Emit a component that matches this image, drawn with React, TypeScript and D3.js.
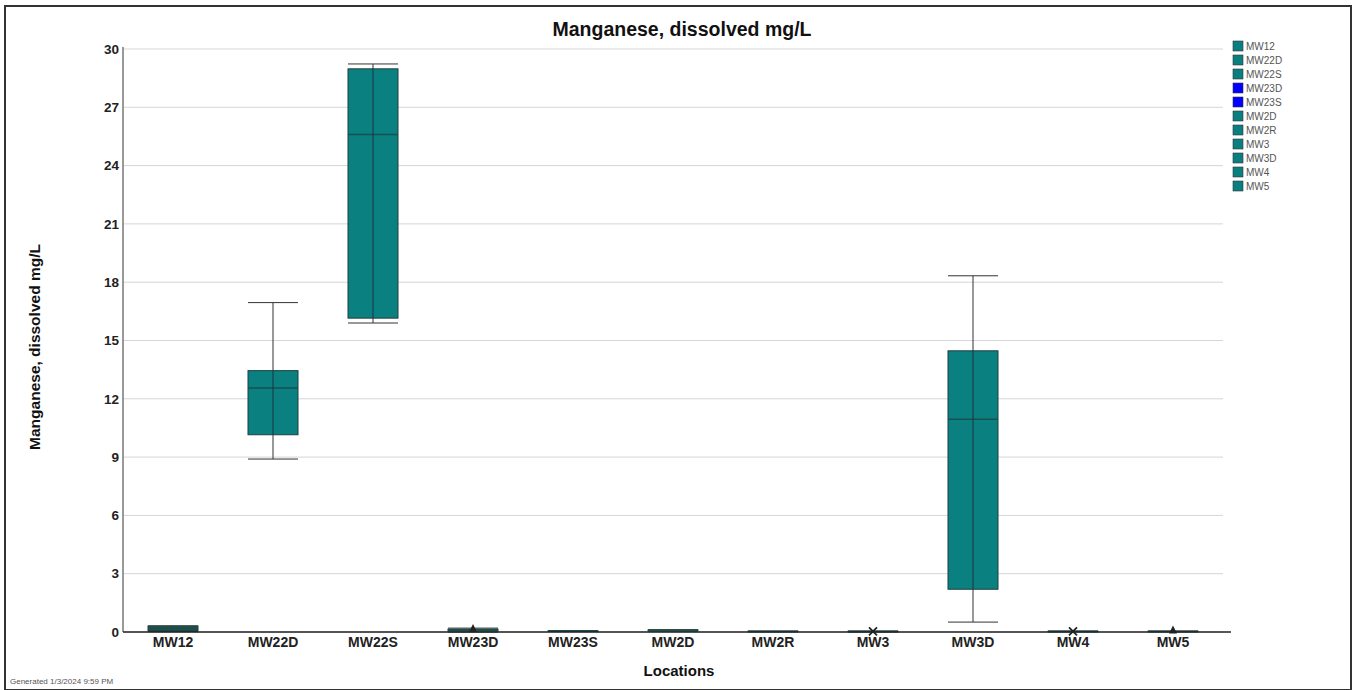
import React from "react";
import * as d3 from "d3";

// Locations and five-number summaries (mg/L)
const locations = ["MW12", "MW22D", "MW22S", "MW23D", "MW23S", "MW2D", "MW2R", "MW3", "MW3D", "MW4", "MW5"];
const whiskerLow = [0.02, 8.9, 15.9, 0.0, 0.03, 0.05, 0.02, 0.01, 0.51, 0.02, 0.02];
const q1 = [0.05, 10.15, 16.15, 0.05, 0.04, 0.06, 0.03, 0.02, 2.2, 0.03, 0.03];
const median = [0.2, 12.55, 25.6, 0.1, 0.05, 0.08, 0.03, 0.03, 10.95, 0.03, 0.03];
const q3 = [0.3, 13.45, 28.98, 0.15, 0.06, 0.1, 0.04, 0.04, 14.47, 0.04, 0.04];
const whiskerHigh = [0.32, 16.95, 29.23, 0.2, 0.07, 0.12, 0.05, 0.05, 18.33, 0.05, 0.05];
// Point markers drawn at a few locations
const markerLoc = ["MW23D", "MW3", "MW4", "MW5"];
const markerVal = [0.1, 0.03, 0.03, 0.03];
const markerShape = ["tri", "x", "x", "tri"];

const legendColors = ["#0a7f7f", "#0a7f7f", "#0a7f7f", "#0000ff", "#0000ff", "#0a7f7f", "#0a7f7f", "#0a7f7f", "#0a7f7f", "#0a7f7f", "#0a7f7f"];
const yTicks = [0, 3, 6, 9, 12, 15, 18, 21, 24, 27, 30];

const W = 1356;
const H = 690;
const left = 123;
const right = 1223;
const top = 49;
const bottom = 632;
const font = "'Liberation Sans', Arial, sans-serif";
const teal = "#0b8080";

export default function App() {
  const x = d3.scaleBand<string>().domain(locations).range([left, right]).paddingInner(0).paddingOuter(0);
  const y = d3.scaleLinear().domain([0, 30]).range([bottom, top]);
  const bw = x.bandwidth() * 0.5;

  return (
    <svg
      width={W}
      height={H}
      style={{ position: "absolute", left: 0, top: 0, background: "#fff" }}
      fontFamily={font}
    >
      <rect x={5} y={6} width={1346} height={684} fill="#fff" stroke="#333" strokeWidth={2} />

      {/* gridlines */}
      {yTicks.map((t) => (
        <line key={"g" + t} x1={left} x2={right} y1={y(t)} y2={y(t)} stroke="#d6d6d6" strokeWidth={1} />
      ))}

      {/* boxes */}
      {locations.map((loc, i) => {
        const cx = (x(loc) as number) + x.bandwidth() / 2;
        const x0 = cx - bw / 2;
        const small = q3[i] - q1[i] < 1;
        return (
          <g key={loc}>
            <line x1={cx} x2={cx} y1={y(whiskerHigh[i])} y2={y(whiskerLow[i])} stroke="#333" strokeWidth={1} />
            <line x1={x0} x2={x0 + bw} y1={y(whiskerHigh[i])} y2={y(whiskerHigh[i])} stroke="#333" strokeWidth={1} />
            <line x1={x0} x2={x0 + bw} y1={y(whiskerLow[i])} y2={y(whiskerLow[i])} stroke="#333" strokeWidth={1} />
            <rect
              x={x0}
              y={y(q3[i])}
              width={bw}
              height={Math.max(y(q1[i]) - y(q3[i]), 0.5)}
              fill={small ? "#1e4f4a" : teal}
              stroke="#1f3f3f"
              strokeWidth={1}
            />
            <line x1={x0} x2={x0 + bw} y1={y(median[i])} y2={y(median[i])} stroke="#16504f" strokeWidth={1.5} />
            {!small && <line x1={cx} x2={cx} y1={y(q3[i])} y2={y(q1[i])} stroke="#1a3344" strokeWidth={1} />}
          </g>
        );
      })}

      {/* markers */}
      {markerLoc.map((loc, i) => {
        const cx = (x(loc) as number) + x.bandwidth() / 2;
        const cy = y(markerVal[i]);
        if (markerShape[i] === "x") {
          return (
            <g key={"m" + i} stroke="#222" strokeWidth={1.8}>
              <line x1={cx - 4} x2={cx + 4} y1={cy - 4} y2={cy + 4} />
              <line x1={cx - 4} x2={cx + 4} y1={cy + 4} y2={cy - 4} />
            </g>
          );
        }
        return (
          <path key={"m" + i} d={`M${cx},${cy - 6}L${cx + 4},${cy + 2}L${cx - 4},${cy + 2}Z`} fill="#222" />
        );
      })}

      {/* axes */}
      <line x1={left} x2={left} y1={top - 2} y2={bottom} stroke="#777" strokeWidth={1.5} />
      <line x1={left} x2={right + 8} y1={bottom} y2={bottom} stroke="#222" strokeWidth={1.5} />

      {yTicks.map((t) => (
        <text key={"t" + t} x={left - 4} y={y(t)} dy="0.35em" textAnchor="end" fontSize={13.5} fontWeight="bold" fill="#222">
          {t}
        </text>
      ))}
      {locations.map((loc) => (
        <text
          key={"xl" + loc}
          x={(x(loc) as number) + x.bandwidth() / 2}
          y={bottom + 15}
          textAnchor="middle"
          fontSize={14}
          fontWeight="bold"
          fill="#222"
        >
          {loc}
        </text>
      ))}

      <text x={682} y={36} textAnchor="middle" fontSize={19.5} fontWeight="bold" fill="#111">
        Manganese, dissolved mg/L
      </text>
      <text
        transform={`translate(40,347) rotate(-90)`}
        textAnchor="middle"
        fontSize={15.5}
        fontWeight="bold"
        fill="#111"
      >
        Manganese, dissolved mg/L
      </text>
      <text x={679} y={676} textAnchor="middle" fontSize={15} fontWeight="bold" fill="#111">
        Locations
      </text>
      <text x={10} y={684} fontSize={8} fill="#555">
        Generated 1/3/2024 9:59 PM
      </text>

      {/* legend */}
      {locations.map((loc, i) => (
        <g key={"lg" + loc} transform={`translate(1233,${41 + i * 14})`}>
          <rect x={0} y={0} width={10} height={10} fill={legendColors[i]} stroke="#334" strokeWidth={0.6} />
          <text x={13} y={9} fontSize={10} fill="#555">
            {loc}
          </text>
        </g>
      ))}
    </svg>
  );
}
